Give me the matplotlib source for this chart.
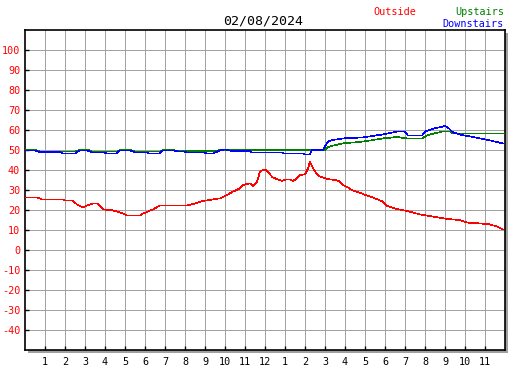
import matplotlib
matplotlib.use("Agg")
import matplotlib.pyplot as plt
from matplotlib.patches import Rectangle

# hours since midnight and temperature readings
out_hours = [0, 0.6, 0.85, 1.9, 2.0, 2.35, 2.6, 2.9, 3.15, 3.4, 3.6, 3.9, 4.4, 4.9,
             5.1, 5.75, 5.9, 6.4, 6.75, 8.1, 8.4, 8.9, 9.4, 9.75, 10.1, 10.4, 10.75,
             10.9, 11.25, 11.4, 11.6, 11.75, 11.9, 12.05, 12.2, 12.4, 12.65, 12.85,
             13.05, 13.25, 13.4, 13.6, 13.75, 14.0, 14.15, 14.25, 14.4, 14.6, 14.75,
             15.1, 15.5, 15.75, 15.9, 16.15, 16.4, 16.9, 17.4, 17.9, 18.1, 18.6, 19.1,
             19.75, 20.4, 21.1, 21.75, 22.1, 22.75, 23.25, 23.6, 23.9]
outside = [26.3, 26.3, 25.3, 25.3, 24.8, 24.8, 22.8, 21.3, 22.5, 23.3, 23.3, 20.3, 19.8, 18.3,
           17.3, 17.3, 18.2, 20.3, 22.3, 22.3, 23.0, 24.5, 25.3, 25.8, 27.5, 29.2, 30.8,
           32.5, 33.3, 32.0, 34.2, 39.2, 40.0, 40.0, 38.3, 36.2, 35.3, 34.5,
           35.3, 35.3, 34.5, 35.8, 37.5, 37.8, 40.8, 44.2, 40.8, 37.8, 36.7,
           35.5, 35.0, 34.2, 32.5, 31.2, 29.7, 28.0, 26.2, 24.2, 22.0, 20.5, 19.5,
           17.8, 16.7, 15.5, 15.0, 13.7, 13.3, 12.8, 11.7, 10.3]

up_hours = [0, 0.5, 0.75, 2.5, 2.7, 3.2, 3.35, 4.6, 4.75, 5.25, 5.5, 6.75, 6.9, 7.4,
            7.6, 9.4, 9.7, 15.0, 15.1, 15.4, 15.9, 16.9, 17.9, 18.6, 19.1, 19.85,
            20.15, 20.85, 21.25, 21.4, 24.0]
upstairs = [50, 50, 49.3, 49.3, 50, 50, 49.3, 49.3, 50, 50, 49.3, 49.3, 50, 50,
            49.5, 49.5, 49.9, 49.9, 51.2, 52.2, 53.3, 54.2, 55.8, 56.5, 55.8, 55.8,
            57.5, 59.2, 59.2, 58.3, 58.3]

down_hours = [0, 0.5, 0.75, 1.75, 1.9, 2.5, 2.75, 3.1, 3.35, 3.9, 4.1, 4.6, 4.75, 5.25,
              5.5, 6.1, 6.15, 6.75, 6.9, 7.4, 7.65, 7.9, 8.1, 8.9, 9.1, 9.4, 9.75, 10.0,
              10.2, 10.4, 11.25, 11.35, 12.85, 12.9, 13.9, 14.0, 14.25, 14.35, 14.9,
              15.0, 15.15, 15.4, 15.9, 16.9, 17.9, 18.6, 19.0, 19.15, 19.85, 20.0,
              20.35, 20.65, 21.0, 21.15, 21.4, 21.85, 22.5, 23.15, 23.9]
downstairs = [49.8, 49.8, 49.0, 49.0, 48.3, 48.3, 49.8, 49.8, 48.8, 48.8, 48.3, 48.3, 49.8, 49.8,
              48.8, 48.8, 48.3, 48.3, 49.8, 49.8, 49.3, 49.3, 48.8, 48.8, 48.3, 48.3, 49.8, 50.3,
              49.8, 49.5, 49.5, 48.8, 48.8, 48.3, 48.3, 47.8, 47.8, 50.0, 50.0,
              51.7, 54.2, 55.0, 55.8, 56.3, 57.8, 59.2, 59.2, 57.2, 57.2, 59.2,
              60.5, 61.2, 62.0, 61.2, 58.8, 57.5, 56.3, 55.0, 53.3]

hour_ticks = list(range(1, 24))
hour_labels = [str(h if h <= 12 else h - 12) for h in hour_ticks]
temp_ticks = list(range(-40, 101, 10))

W, H = 527, 370
fig = plt.figure(figsize=(W / 100, H / 100), dpi=100)
mono = "DejaVu Sans Mono"

left, right, top, bottom = 25, 505, 30, 350
ax = fig.add_axes([left / W, 1 - bottom / H, (right - left) / W, (bottom - top) / H])

# drop shadow right/bottom
fig.patches.append(Rectangle(((left + 3) / W, 1 - (bottom + 3) / H), (right - left) / W,
                             (bottom - top) / H, transform=fig.transFigure,
                             facecolor="#a0a0a0", edgecolor="none", zorder=-1))

ax.plot(out_hours, outside, color="#ff0000", lw=0.45, antialiased=False, zorder=3)
ax.plot(up_hours, upstairs, color="#008000", lw=0.45, antialiased=False, zorder=3)
ax.plot(down_hours, downstairs, color="#0000ff", lw=0.45, antialiased=False, zorder=4)

ax.set_xlim(0, 24)
ax.set_ylim(-50, 110)
ax.set_xticks(hour_ticks)
ax.set_xticklabels(hour_labels, fontfamily=mono, fontsize=7.3, color="black")
ax.set_yticks(temp_ticks)
ax.set_yticklabels([str(t) for t in temp_ticks], fontfamily=mono, fontsize=7.3, color="#ff0000")
ax.tick_params(axis="x", direction="in", length=3, width=1, pad=5)
ax.tick_params(axis="y", direction="in", length=3, width=1, pad=3.5)

ax.grid(True, color="#a0a0a0", lw=0.7)
ax.set_axisbelow(True)
for s in ax.spines.values():
    s.set_color("black")
    s.set_linewidth(1.2)

fig.text(263 / W, 1 - 24 / H, "02/08/2024", ha="center", va="baseline",
         fontfamily=mono, fontsize=9.5, color="black")
fig.text(373 / W, 1 - 15 / H, "Outside", ha="left", va="baseline",
         fontfamily=mono, fontsize=7.3, color="#ff0000")
fig.text(504 / W, 1 - 15 / H, "Upstairs", ha="right", va="baseline",
         fontfamily=mono, fontsize=7.3, color="#008000")
fig.text(504 / W, 1 - 27 / H, "Downstairs", ha="right", va="baseline",
         fontfamily=mono, fontsize=7.3, color="#0000ff")

fig.savefig("out.png", dpi=100)
